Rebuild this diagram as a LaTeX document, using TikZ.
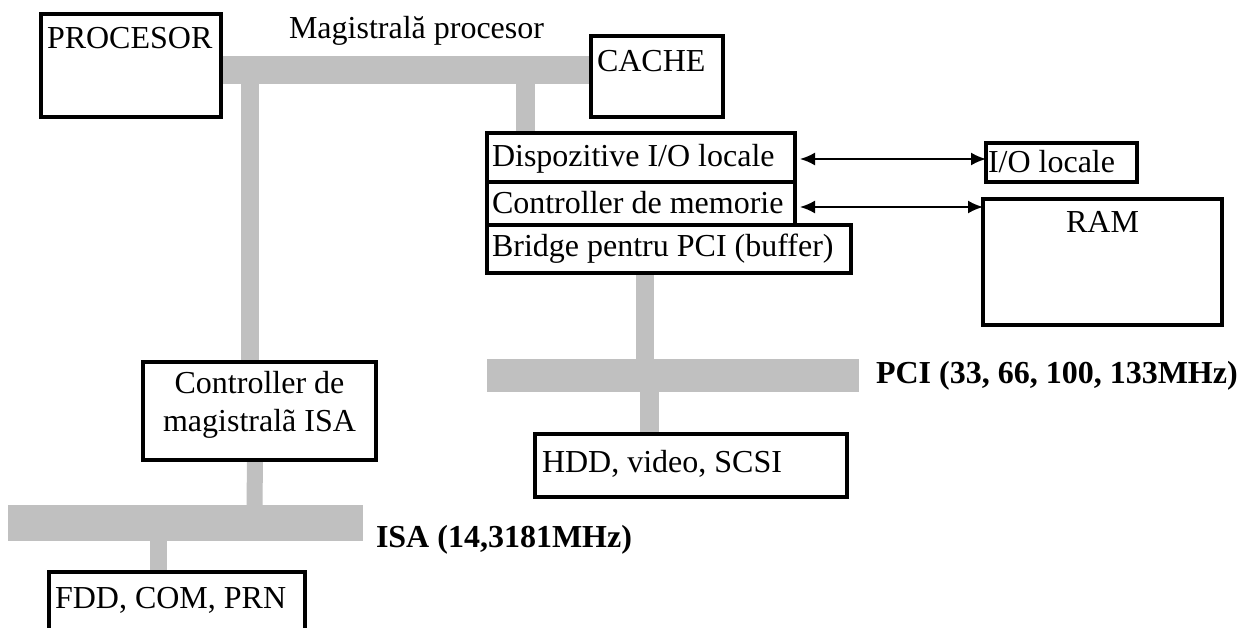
\documentclass[tikz,border=0pt]{standalone}
\usepackage{fontspec}
\setmainfont{Liberation Serif}
\usetikzlibrary{calc,arrows.meta}
\definecolor{busgray}{HTML}{C0C0C0}
\begin{document}
\begin{tikzpicture}[x=1pt,y=-1pt,
  box/.style={draw=black,line width=3.5pt,rectangle,inner sep=0pt,outer sep=0pt},
  bus/.style={fill=busgray,draw=none,rectangle,inner sep=0pt,outer sep=0pt},
  vbus/.style={draw=busgray,line width=18pt,line cap=butt},
  txt/.style={inner sep=0pt,outer sep=0pt,font=\fontsize{32}{38}\selectfont},
  btxt/.style={inner sep=0pt,outer sep=0pt,font=\fontsize{32}{38}\selectfont\bfseries},
  link/.style={line width=2pt,{Latex[length=15pt,width=13pt]}-{Latex[length=15pt,width=13pt]}}
]
\clip (0,0) rectangle (1237,628);
\fill[white] (0,0) rectangle (1237,628);

% buses
\node[bus,minimum width=370pt,minimum height=28pt] (cpubus) at (406,70) {};
\node[bus,minimum width=372pt,minimum height=33pt] (pcibus) at (673,375.5) {};
\node[bus,minimum width=355pt,minimum height=36pt] (isabus) at (185.5,523) {};

% boxes
\node[box,minimum width=180pt,minimum height=103pt] (proc) at (131,65.5) {};
\node[box,minimum width=132pt,minimum height=81pt] (cache) at (657,76.5) {};
\node[box,minimum width=308pt,minimum height=49pt] (dispo) at (641,157.5) {};
\node[box,minimum width=308pt,minimum height=43pt] (ctrlmem) at (641,203.5) {};
\node[box,minimum width=364pt,minimum height=48pt] (bridge) at (669,249) {};
\node[box,minimum width=151pt,minimum height=39pt] (ioloc) at (1061.5,162.5) {};
\node[box,minimum width=239pt,minimum height=126pt] (ram) at (1102.5,262) {};
\node[box,minimum width=312pt,minimum height=63pt] (hdd) at (691,465.5) {};
\node[box,minimum width=233pt,minimum height=98pt] (isactrl) at (259.5,411) {};
\node[box,minimum width=256pt,minimum height=78pt] (fdd) at (177,611) {};

% vertical bus segments
\draw[vbus] ($(cpubus.south west)+(29,0)$) -- ($(isactrl.north west)+(107,0)$);
\draw[vbus,line width=19pt] ($(cpubus.south west)+(304.5,0)$) -- ($(dispo.north west)+(38.5,0)$);
\draw[vbus] ($(bridge.south west)+(158,0)$) -- ($(pcibus.north west)+(158,0)$);
\draw[vbus,line width=19pt] ($(pcibus.south west)+(162.5,0)$) -- ($(hdd.north west)+(114.5,0)$);
\draw[vbus,line width=16pt] ($(isactrl.south west)+(112,0)$) -- ($(isabus.north west)+(246.5,0)$);
\draw[vbus,line width=17pt] ($(isabus.south west)+(150.5,0)$) -- ($(fdd.north west)+(109.5,0)$);

% redraw box borders over bus ends
\foreach \n in {proc,cache,dispo,ctrlmem,bridge,hdd,isactrl,fdd}{
  \draw[line width=3.5pt] (\n.north west) rectangle (\n.south east);
}

% texts
\node[txt,anchor=base west] (proc-t) at ($(proc.north west)+(6,35)$) {PROCESOR};
\node[txt,anchor=base west] (cache-t) at ($(cache.north west)+(6,36)$) {CACHE};
\node[txt,anchor=base west] (dispo-t) at ($(dispo.north west)+(5,34)$) {Dispozitive I/O locale};
\node[txt,anchor=base west] (ctrlmem-t) at ($(ctrlmem.north west)+(5,32)$) {Controller de memorie};
\node[txt,anchor=base west] (bridge-t) at ($(bridge.north west)+(5,32)$) {Bridge pentru PCI (buffer)};
\node[txt,anchor=base west] (ioloc-t) at ($(ioloc.north west)+(2,30)$) {I/O locale};
\node[txt,anchor=base] (ram-t) at ($(ram.north)+(0,34)$) {RAM};
\node[txt,anchor=base west] (hdd-t) at ($(hdd.north west)+(7,38)$) {HDD, video, SCSI};
\node[txt,anchor=base west] (fdd-t) at ($(fdd.north west)+(6,36)$) {FDD, COM, PRN};
\node[txt,align=center] (isactrl-t) at ($(isactrl.center)+(0,-6)$) {Controller de\\magistralã ISA};

% bus labels
\node[txt,anchor=base west] (cpubus-l) at ($(cpubus.north west)+(68,-17)$) {Magistrală procesor};
\node[btxt,anchor=west] (pcibus-l) at ($(pcibus.east)+(17,0)$) {PCI (33, 66, 100, 133MHz)};
\node[btxt,anchor=base west] (isabus-l) at ($(isabus.east)+(13,24)$) {ISA (14,3181MHz)};

% arrows
\draw[link] ($(dispo.east)+(5,1.5)$) -- ($(dispo.east -| ioloc.west)+(0,1.5)$);
\draw[link] ($(ctrlmem.east)+(5,3.5)$) -- ($(ctrlmem.east -| ram.west)+(0,3.5)$);
\end{tikzpicture}
\end{document}
